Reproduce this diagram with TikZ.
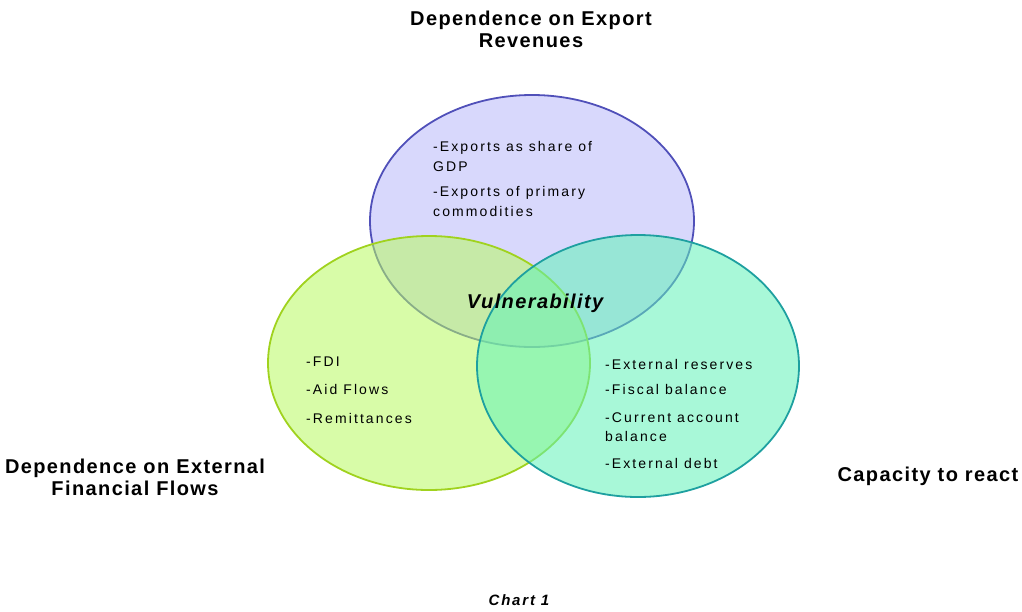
\documentclass[tikz,border=0pt]{standalone}
\usepackage{fontspec}
\setmainfont{Liberation Sans}
\newfontfamily\titlefont[LetterSpace=7]{Liberation Sans}
\newfontfamily\itemfont[LetterSpace=15]{Liberation Sans}
\newfontfamily\chartfont[LetterSpace=12]{Liberation Sans}
\definecolor{topfill}{RGB}{184,184,250}
\definecolor{leftfill}{RGB}{184,250,97}
\definecolor{rightfill}{RGB}{97,242,184}
\definecolor{topline}{RGB}{80,80,185}
\definecolor{leftline}{RGB}{160,210,30}
\definecolor{rightline}{RGB}{30,160,160}
\begin{document}
\begin{tikzpicture}[x=1pt,y=-1pt,
  circ/.style={fill opacity=0.55, draw opacity=1, line width=1.8pt},
  title/.style={font=\titlefont\fontsize{20}{22}\selectfont\bfseries, align=center, inner sep=0pt},
  item/.style={font=\itemfont\fontsize{14}{17}\selectfont, anchor=west, align=left, inner sep=0pt}]
\useasboundingbox (0,0) rectangle (1022,611);
\path[circ, fill=topfill, draw=topline] (532,221) ellipse [x radius=162, y radius=126];
\path[circ, fill=leftfill, draw=leftline] (429,363) ellipse [x radius=161, y radius=127];
\path[circ, fill=rightfill, draw=rightline] (638,366) ellipse [x radius=161, y radius=131];
\node[title] (ttop) at (531,29) {Dependence on Export\\Revenues};
\node[title] (tleft) at (135,477) {Dependence on External\\Financial Flows};
\node[title] (tright) at (928,476) {Capacity to react};
\node[font=\titlefont\fontsize{20}{22}\selectfont\bfseries\itshape, inner sep=0pt] (vul) at (535,303) {Vulnerability};
\node[font=\chartfont\fontsize{15}{17}\selectfont\bfseries\itshape, inner sep=0pt] (chart) at (519,600) {Chart 1};
\node[item] (t1) at (433,148) {-Exports as share of};
\node[item] (t2) at (433,167) {GDP};
\node[item] (t3) at (433,193) {-Exports of primary};
\node[item] (t4) at (433,211) {commodities};
\node[item] (l1) at (306,362) {-FDI};
\node[item] (l2) at (306,389) {-Aid Flows};
\node[item] (l3) at (306,418) {-Remittances};
\node[item] (r1) at (605,364) {-External reserves};
\node[item] (r2) at (605,389) {-Fiscal balance};
\node[item] (r3) at (605,418) {-Current account};
\node[item] (r4) at (605,436) {balance};
\node[item] (r5) at (605,463) {-External debt};
\end{tikzpicture}
\end{document}
